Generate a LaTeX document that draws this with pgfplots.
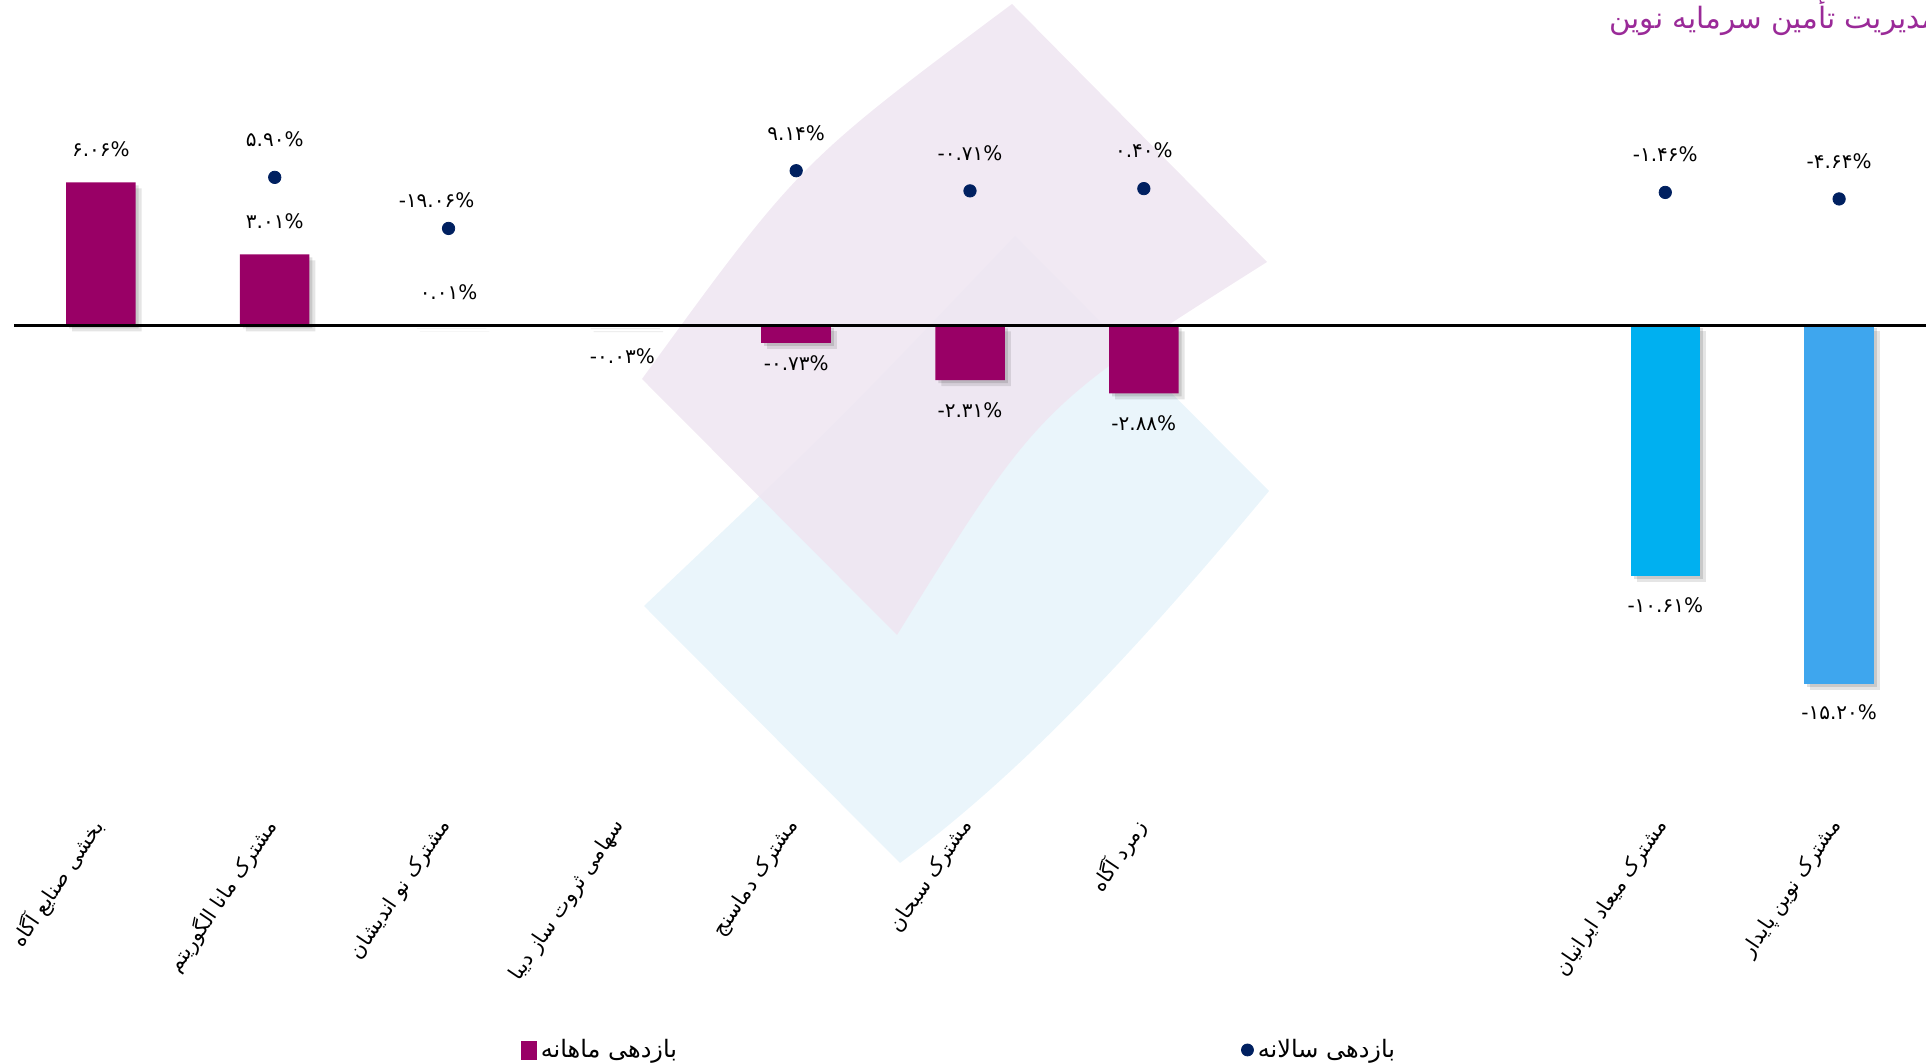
\documentclass[border=0pt]{standalone}
\usepackage{fontspec}
\usepackage{pgfplots}
\pgfplotsset{compat=1.18}
\usetikzlibrary{shadows}
\TeXXeTstate=1
\newfontfamily\arabicfont[Script=Arabic]{DejaVu Sans}
\newfontfamily\numfam{DejaVu Sans}
\definecolor{cPurple}{HTML}{990066}
\definecolor{cBlueA}{HTML}{00B0F0}
\definecolor{cBlueB}{HTML}{3EA6EE}
\definecolor{cNavy}{HTML}{002060}
\definecolor{cTitle}{HTML}{9A2A98}
\definecolor{wmBlue}{HTML}{EAF5FB}
\definecolor{wmPink}{HTML}{EFE5F1}
\newcommand\numfont{\numfam\fontsize{10}{12}\selectfont}
\newcommand\tickfont{\arabicfont\fontsize{10.3}{12}\selectfont}
\newcommand\legfont{\arabicfont\fontsize{12}{14}\selectfont}
\pgfplotsset{
  barshadow/.style={
    drop shadow={shadow xshift=1.5pt,shadow yshift=-1.5pt,opacity=0.12,fill=black},
    drop shadow={shadow xshift=3pt,shadow yshift=-3pt,opacity=0.10,fill=black}},
}
\begin{document}
\begin{tikzpicture}
\path[use as bounding box] (0,0) rectangle (963pt,532pt);
% background watermark
\begin{scope}[shift={(0pt,532pt)},x=0.5pt,y=-0.5pt]
  \fill[wmBlue] (644,606) .. controls (835,425) .. (1015,236) -- (1269,491) .. controls (1170,610) and (1040,760) .. (900,863) -- cycle;
  \fill[wmPink, fill opacity=0.85] (642,379) .. controls (799,163) .. (1012,4) -- (1267,262) .. controls (1039,406) .. (897,635) -- cycle;
  \node[anchor=east, inner sep=0pt, font=\arabicfont\fontsize{14.7}{16}\selectfont, text=cTitle] at (1938,17) {\beginR مدیریت تأمین سرمایه نوین\endR};
\end{scope}

\begin{axis}[name=main,
  at={(7pt,127.35pt)}, anchor=south west,
  scale only axis, width=956pt, height=383.5pt,
  xmin=-0.5, xmax=10.5, ymin=-20.5, ymax=12,
  clip=false,
  axis line style={draw=none},
  major tick length=0pt,
  ytick=\empty,
  xtick={0,1,2,3,4,5,6,7,8,9,10},
  xticklabels={
    {\beginR بخشی صنایع آگاه\endR},
    {\beginR مشترک مانا الگوریتم\endR},
    {\beginR مشترک نو اندیشان\endR},
    {\beginR سهامی ثروت ساز دیبا\endR},
    {\beginR مشترک دماسنج\endR},
    {\beginR مشترک سبحان\endR},
    {\beginR زمرد آگاه\endR},
    {},{},
    {\beginR مشترک میعاد ایرانیان\endR},
    {\beginR مشترک نوین پایدار\endR}},
  xticklabel style={font=\tickfont, inner sep=0pt, anchor=east, yshift=-6.5pt, xshift=-1pt, rotate=56},
]
% monthly returns, positive
\addplot[ybar, bar width=0.4, bar shift=0pt, fill=cPurple, draw=none, barshadow,
  nodes near coords, point meta=explicit symbolic,
  every node near coord/.append style={font=\numfont, text=black, anchor=center, yshift=16.5pt}]
  coordinates {(0,6.06) [۶.۰۶\%] (1,3.01) [۳.۰۱\%] (2,0.01) [۰.۰۱\%]};
% monthly returns, negative
\addplot[ybar, bar width=0.4, bar shift=0pt, fill=cPurple, draw=none, barshadow,
  nodes near coords, point meta=explicit symbolic,
  every node near coord/.append style={font=\numfont, text=black, anchor=center, yshift=-15pt}]
  coordinates {(3,-0.03) [-۰.۰۳\%] (5,-2.31) [-۲.۳۱\%] (6,-2.88) [-۲.۸۸\%]};
\addplot[ybar, bar width=0.4, bar shift=0pt, fill=cPurple, draw=none, barshadow,
  nodes near coords, point meta=explicit symbolic,
  every node near coord/.append style={font=\numfont, text=black, anchor=center, yshift=-10.5pt}]
  coordinates {(4,-0.73) [-۰.۷۳\%]};
\addplot[ybar, bar width=0.4, bar shift=0pt, fill=cBlueA, draw=none, barshadow,
  nodes near coords, point meta=explicit symbolic,
  every node near coord/.append style={font=\numfont, text=black, anchor=center, yshift=-14.5pt}]
  coordinates {(9,-10.61) [-۱۰.۶۱\%]};
\addplot[ybar, bar width=0.4, bar shift=0pt, fill=cBlueB, draw=none, barshadow,
  nodes near coords, point meta=explicit symbolic,
  every node near coord/.append style={font=\numfont, text=black, anchor=center, yshift=-14pt}]
  coordinates {(10,-15.20) [-۱۵.۲۰\%]};
% zero line
\addplot[black, line width=1.25pt, forget plot] coordinates {(-0.5,0) (10.5,0)};
\end{axis}

\begin{axis}[
  at={(main.south west)}, anchor=south west,
  scale only axis, width=956pt, height=383.5pt,
  xmin=-0.5, xmax=10.5, ymin=-302.9, ymax=71.9,
  hide axis, clip=false,
  legend style={at={(0.4948,-0.3138)}, anchor=center, draw=none, fill=none,
    font=\legfont, legend columns=2,
    /tikz/every even column/.append style={column sep=280pt}},
]
\addlegendimage{legend image code/.code={\fill[cPurple] (0pt,-4.5pt) rectangle (7.5pt,4.5pt);}}
\addlegendentry{\beginR بازدهی ماهانه\endR}
% annual returns
\addplot[only marks, mark=*, mark size=3.1pt, cNavy,
  legend image code/.code={\fill[cNavy] (3pt,0pt) circle (3pt);},
  nodes near coords, point meta=explicit symbolic,
  every node near coord/.append style={font=\numfont, text=black, anchor=center, yshift=19pt}]
  coordinates {(1,5.90) [۵.۹۰\%] (4,9.14) [۹.۱۴\%] (5,-0.71) [-۰.۷۱\%] (6,0.40) [۰.۴۰\%] (9,-1.46) [-۱.۴۶\%] (10,-4.64) [-۴.۶۴\%]};
\addlegendentry{\beginR بازدهی سالانه\endR}
\addplot[only marks, mark=*, mark size=3.1pt, cNavy, forget plot,
  nodes near coords, point meta=explicit symbolic,
  every node near coord/.append style={font=\numfont, text=black, anchor=center, yshift=14pt, xshift=-6pt}]
  coordinates {(2,-19.06) [-۱۹.۰۶\%]};
\end{axis}
\end{tikzpicture}
\end{document}
